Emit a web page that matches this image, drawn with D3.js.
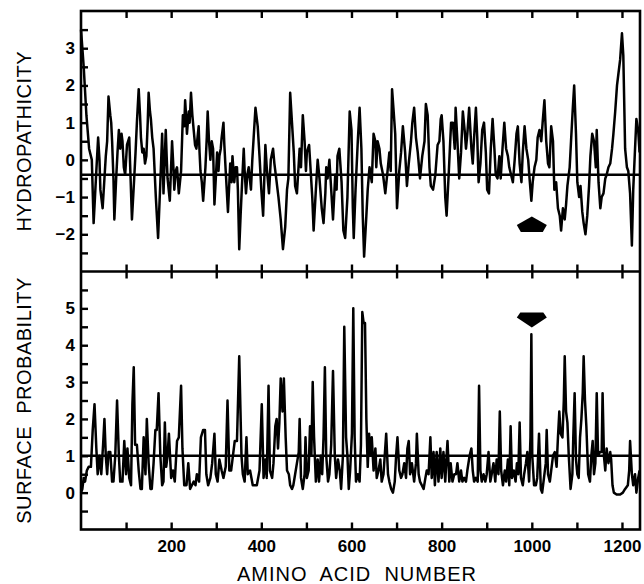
<!DOCTYPE html>
<html>
<head>
<meta charset="utf-8">
<script src="https://cdn.jsdelivr.net/npm/d3@7"></script>
<style>
  body { margin: 0; background: #fff; }
</style>
</head>
<body>
<div id="chart"></div>
<script>
// hydropathicity profile (residue number / value)
var hydroPos = [
  0,3,6,12,18,24,28,31,34,38,
  41,43,48,52,55,58,61,65,67,69,
  72,74,78,81,84,87,90,92,95,98,
  102,107,110,113,118,121,124,128,131,133,
  136,139,142,145,148,150,153,155,158,161,
  166,171,176,180,183,188,190,192,197,202,
  205,207,210,213,217,222,226,229,231,233,
  235,239,241,244,247,250,253,256,261,263,
  265,268,271,276,279,281,284,287,290,293,
  296,299,302,305,307,310,312,316,318,321,
  326,331,334,336,340,343,346,348,351,354,
  357,361,363,366,369,372,377,380,383,387,
  390,392,396,400,404,409,412,417,421,426,
  429,433,438,443,448,453,457,460,464,468,
  472,475,479,482,485,488,492,496,499,501,
  506,510,513,516,521,525,529,534,538,542,
  544,547,551,555,559,564,567,569,573,578,
  582,586,591,596,600,603,605,609,614,618,
  622,625,628,633,636,640,645,649,653,655,
  658,662,665,670,675,680,684,687,690,693,
  697,701,706,710,714,719,723,727,732,735,
  739,743,747,752,757,762,765,769,773,776,
  781,786,791,795,798,800,804,808,811,816,
  819,821,825,829,831,835,839,843,847,851,
  854,857,861,866,869,872,876,879,882,886,
  890,894,898,901,905,909,913,917,920,924,
  928,931,935,939,943,947,950,954,958,962,
  966,969,973,977,980,984,988,992,995,999,
  1002,1006,1010,1013,1017,1021,1024,1028,1032,1036,
  1039,1043,1047,1050,1054,1058,1062,1065,1069,1073,
  1076,1079,1084,1087,1091,1094,1098,1101,1105,1108,
  1112,1115,1119,1123,1127,1130,1134,1138,1142,1144,
  1148,1152,1155,1159,1163,1166,1170,1174,1178,1181,
  1185,1189,1192,1196,1200,1203,1207,1211,1214,1218,
  1222,1225,1229,1232,1236,1239
];
var hydroVal = [
  3.5,3.0,2.5,1.2,0.3,0.0,-1.7,-1.0,-0.3,0.6,
  0.0,-0.8,-1.3,-0.5,0.1,0.5,1.7,1.2,1.0,0.5,
  -0.5,-1.6,-0.5,0.2,0.8,0.3,0.7,0.5,-0.2,-0.4,
  0.4,0.6,-0.5,-1.6,-0.5,0.2,1.0,1.9,1.2,0.6,
  0.2,0.3,-0.1,0.1,1.0,1.8,1.3,1.1,0.6,0.3,
  -1.0,-2.1,-0.6,0.7,-0.9,0.8,0.1,-0.5,-1.1,0.5,
  -0.2,-0.8,-0.3,-0.2,-0.9,-0.3,1.2,0.9,1.6,1.2,
  0.7,1.3,1.0,1.8,1.2,0.8,0.4,0.3,0.9,0.2,
  -0.3,-0.6,-1.1,-0.2,0.6,1.3,0.5,0.0,0.5,0.3,
  -1.2,-0.5,0.2,-0.3,0.1,0.3,0.6,1.0,0.4,-0.3,
  -1.4,-0.1,-0.6,0.1,-0.6,-0.2,-0.2,-0.8,-2.4,-1.5,
  -0.7,0.3,-0.3,-0.9,-0.4,-0.2,-0.8,0.0,0.6,1.4,
  1.1,0.9,0.1,-0.8,-1.5,0.4,-0.2,-0.9,0.0,0.3,
  -0.1,-0.5,-1.0,-1.6,-2.4,-1.8,-0.8,-0.5,1.8,1.0,
  0.2,-0.7,-0.9,-0.3,0.3,-0.2,1.2,0.5,-0.3,0.2,
  0.4,-0.4,-1.0,-1.9,-0.8,0.0,-0.5,-1.3,-1.7,-0.9,
  -0.2,-0.5,0.0,-0.8,-1.6,-0.4,-0.8,0.1,0.3,-0.6,
  -1.9,-2.1,-1.0,1.3,0.8,-1.3,-2.1,-0.8,0.5,1.4,
  0.3,-1.5,-2.6,-1.5,-0.8,-0.2,-0.6,0.7,0.5,-0.2,
  0.5,0.3,-0.1,-0.4,-0.9,-0.3,0.2,-0.3,1.9,1.4,
  0.7,-1.3,-0.3,0.2,0.9,0.2,-0.7,-0.1,0.5,1.0,
  1.4,0.6,0.2,-0.5,0.1,0.5,1.5,1.2,-0.2,-0.7,
  -0.8,-0.4,0.4,0.5,1.1,1.2,0.5,-1.0,-1.5,-0.3,
  0.5,1.0,1.0,0.3,1.4,0.5,-0.5,0.2,1.3,0.8,
  0.3,0.7,1.4,0.3,-0.1,0.6,1.4,0.6,-0.6,-0.1,
  0.8,1.0,0.2,-0.8,-0.9,0.3,1.1,0.3,-0.4,-0.5,
  0.1,-0.5,0.3,1.0,0.3,0.1,-0.2,-0.4,-0.6,0.0,
  0.7,0.9,-0.1,-0.6,0.2,0.9,0.3,0.0,-0.5,-1.1,
  -0.6,-0.2,0.0,0.6,0.8,0.5,1.0,1.6,0.5,-0.1,
  -0.2,0.9,0.5,-0.8,-0.6,-1.3,-1.5,-1.9,-1.3,-1.6,
  -1.2,-0.7,-0.2,0.5,1.4,2.0,0.7,-0.6,-1.0,-0.7,
  -1.4,-1.7,-2.0,-1.5,-0.7,0.1,0.7,0.5,-0.2,0.8,
  -0.6,-1.3,-1.0,-0.9,-0.5,-0.4,-0.2,-0.1,0.3,0.7,
  1.3,2.0,2.3,2.7,3.4,2.8,0.3,-0.2,-0.3,-0.9,
  -2.3,-0.8,0.3,1.1,0.8,0.2
];

// surface probability profile
var surfPos = [
  0,3,6,9,13,17,22,26,30,34,
  37,41,45,49,52,55,58,61,65,69,
  72,76,80,84,87,92,96,100,103,107,
  111,114,117,120,124,128,132,135,139,143,
  146,150,154,157,161,165,168,172,176,180,
  183,186,189,192,195,200,204,208,213,217,
  222,225,229,234,238,242,246,250,254,257,
  262,266,271,275,278,282,287,291,296,299,
  303,307,312,316,321,325,329,333,337,341,
  346,351,356,359,363,367,370,375,381,387,
  390,396,401,405,409,412,416,419,424,427,
  431,434,437,440,443,447,450,454,457,461,
  464,468,471,475,479,483,485,488,492,496,
  498,501,505,508,511,514,517,521,525,528,
  532,535,538,541,544,548,551,555,559,563,
  566,570,574,577,581,584,588,591,594,597,
  601,604,607,610,614,618,621,624,627,630,
  633,636,639,642,645,649,653,656,660,664,
  667,671,677,681,684,688,692,696,699,702,
  706,710,713,717,721,724,727,730,734,739,
  743,745,749,752,756,760,764,767,771,775,
  778,782,785,789,793,797,800,804,808,811,
  813,817,820,824,828,832,835,839,843,846,
  850,854,857,862,866,869,872,876,880,883,
  886,889,893,897,900,904,908,911,915,919,
  922,926,929,932,936,940,943,947,950,953,
  956,960,964,967,970,973,976,980,983,987,
  990,994,997,999,1001,1005,1009,1012,1016,1020,
  1023,1027,1031,1033,1036,1040,1043,1047,1051,1055,
  1058,1061,1064,1068,1071,1073,1076,1079,1082,1086,
  1090,1092,1095,1098,1101,1104,1107,1110,1113,1115,
  1118,1121,1125,1129,1132,1135,1138,1141,1144,1147,
  1151,1155,1157,1160,1163,1166,1170,1174,1176,1179,
  1182,1188,1196,1202,1207,1213,1216,1218,1222,1225,
  1229,1232,1236,1239
];
var surfVal = [
  0.0,0.1,0.4,0.3,0.6,0.7,0.7,1.7,2.4,1.2,
  0.5,1.0,0.5,1.3,2.0,1.0,0.5,1.1,1.1,0.3,
  0.3,1.0,2.5,1.0,0.3,0.3,1.4,0.5,1.2,0.4,
  0.2,2.4,3.4,1.3,1.3,0.6,0.1,0.1,1.5,0.5,
  2.0,0.8,0.1,0.1,0.8,1.7,1.7,2.7,1.0,0.2,
  0.3,1.9,0.7,1.0,1.6,0.4,0.6,0.3,1.4,1.5,
  2.9,1.2,0.2,0.2,0.8,0.1,0.2,0.3,0.2,0.5,
  0.3,1.5,1.7,1.7,0.5,0.2,0.4,0.8,1.6,0.5,
  0.3,0.9,0.6,0.4,0.7,2.5,0.6,0.6,1.0,1.4,
  1.4,3.7,1.0,0.5,0.3,1.5,0.5,0.6,0.2,0.2,
  0.2,0.6,2.4,0.4,0.9,0.4,2.9,0.6,0.4,0.8,
  1.8,2.0,1.2,1.9,3.1,2.2,3.1,1.5,0.6,0.5,
  0.2,0.1,0.2,0.5,0.8,1.1,2.0,0.4,0.1,0.5,
  1.5,0.4,0.6,1.8,1.0,3.0,1.5,0.3,0.9,0.3,
  1.0,0.5,1.5,3.4,1.0,0.3,0.5,1.3,3.3,1.0,
  0.4,0.9,0.6,0.1,1.0,4.5,1.5,1.0,0.1,0.6,
  1.6,5.0,1.5,0.3,0.5,0.3,1.3,4.9,4.6,4.6,
  2.0,0.7,1.6,1.0,1.5,0.6,1.2,0.4,0.6,0.9,
  0.3,0.5,1.6,0.5,0.3,0.1,0.0,0.3,1.0,1.5,
  0.6,0.4,0.5,0.8,0.4,1.2,1.4,0.5,0.8,0.3,
  0.8,1.6,0.5,0.3,0.2,0.1,0.4,0.6,0.5,1.5,
  0.4,1.1,0.2,1.1,0.3,1.2,0.4,1.1,0.3,1.0,
  1.4,0.3,0.8,0.3,0.5,0.5,0.8,0.3,0.6,0.3,
  0.4,0.3,0.6,1.0,1.2,0.6,0.3,0.4,0.3,2.9,
  0.6,0.3,0.5,0.3,0.5,1.1,0.3,0.5,0.8,0.3,
  0.9,0.5,2.2,0.6,0.2,0.6,0.3,0.9,0.2,1.8,
  0.4,0.6,0.3,0.8,0.5,1.9,0.4,0.2,0.5,0.8,
  1.1,0.3,1.5,4.3,1.0,0.2,0.2,0.4,1.6,0.1,
  0.0,0.4,0.8,1.7,0.5,0.3,0.6,1.0,1.1,0.7,
  1.5,2.2,1.6,1.5,2.5,3.7,2.2,1.9,1.0,0.1,
  0.5,1.5,2.7,0.9,0.5,0.4,1.5,2.0,2.7,3.7,
  2.5,1.8,0.5,0.3,1.0,1.4,0.5,0.8,2.7,1.0,
  1.1,1.1,2.7,1.0,0.6,1.2,0.8,1.1,0.9,0.2,
  0.0,-0.05,-0.05,0.0,0.1,0.2,0.6,1.4,0.5,0.2,
  0.5,0.0,0.4,0.6
];

var hydroTicks = [-2, -1, 0, 1, 2, 3];
var surfTicks = [0, 1, 2, 3, 4, 5];
var xLabels = [200, 400, 600, 800, 1000, 1200];
var hydroRef = -0.4;   // mean line
var surfRef = 1.0;     // threshold line
var markPos = 1000;    // arrowed residue

var W = 644, H = 584;
// frame edges (note: "top" is a reserved window property, so use f* names)
var fLeft = 81, fRight = 640, fTop = 11, fMid = 271.5, fBottom = 529.5;
var fontFam = "'Liberation Sans', Arial, sans-serif";

var svg = d3.select("#chart").append("svg")
    .attr("width", W)
    .attr("height", H);

var x = d3.scaleLinear().domain([0, 1240]).range([fLeft, fRight]);
var yH = d3.scaleLinear().domain([-3, 4]).range([fMid, fTop]);
var yS = d3.scaleLinear().domain([-1, 6]).range([fBottom, fMid]);

var xTickVals = d3.range(100, 1240, 100);
var minus = function(v) { return v < 0 ? "\u2212" + Math.abs(v) : "" + v; };

function styleAxis(g) {
  g.select(".domain").remove();
  g.selectAll(".tick line").style("stroke", "#000").style("stroke-width", 2.4);
  g.selectAll(".tick text")
    .style("font-family", fontFam)
    .style("font-weight", "bold")
    .style("font-size", "17px")
    .style("fill", "#000");
}

// y axes, ticks every 0.5 pointing inward, labels on whole numbers
svg.append("g")
    .attr("transform", "translate(" + fLeft + ",0)")
    .call(d3.axisLeft(yH).tickValues(d3.range(-2.5, 3.51, 0.5)).tickSize(-7).tickPadding(6)
      .tickFormat(function(d) { return hydroTicks.indexOf(d) >= 0 ? minus(d) : ""; }))
    .call(styleAxis);

svg.append("g")
    .attr("transform", "translate(" + fLeft + ",0)")
    .call(d3.axisLeft(yS).tickValues(d3.range(-0.5, 5.51, 0.5)).tickSize(-7).tickPadding(6)
      .tickFormat(function(d) { return surfTicks.indexOf(d) >= 0 ? d : ""; }))
    .call(styleAxis);

// x ticks: top edge, both sides of the divider, bottom edge with labels
svg.append("g")
    .attr("transform", "translate(0," + fTop + ")")
    .call(d3.axisTop(x).tickValues(xTickVals).tickSize(-7).tickFormat(""))
    .call(styleAxis);
svg.append("g")
    .attr("transform", "translate(0," + fMid + ")")
    .call(d3.axisTop(x).tickValues(xTickVals).tickSize(7).tickFormat(""))
    .call(styleAxis);
svg.append("g")
    .attr("transform", "translate(0," + fMid + ")")
    .call(d3.axisBottom(x).tickValues(xTickVals).tickSize(7).tickFormat(""))
    .call(styleAxis);
svg.append("g")
    .attr("transform", "translate(0," + fBottom + ")")
    .call(d3.axisBottom(x).tickValues(xTickVals).tickSize(-7).tickPadding(10)
      .tickFormat(function(d) { return xLabels.indexOf(d) >= 0 ? d : ""; }))
    .call(styleAxis);

// reference lines
svg.append("line")
    .attr("x1", x(0)).attr("x2", x(1240))
    .attr("y1", yH(hydroRef)).attr("y2", yH(hydroRef))
    .style("stroke", "#000").style("stroke-width", 2.4);
svg.append("line")
    .attr("x1", x(0)).attr("x2", x(1240))
    .attr("y1", yS(surfRef)).attr("y2", yS(surfRef))
    .style("stroke", "#000").style("stroke-width", 2.4);

// profiles
var hydroLine = d3.line()
    .x(function(d) { return x(d[0]); })
    .y(function(d) { return yH(d[1]); });
var surfLine = d3.line()
    .x(function(d) { return x(d[0]); })
    .y(function(d) { return yS(d[1]); });

svg.append("path")
    .datum(d3.zip(hydroPos, hydroVal))
    .attr("d", hydroLine)
    .style("fill", "none").style("stroke", "#000")
    .style("stroke-width", 2.5).style("stroke-linejoin", "round");

svg.append("path")
    .datum(d3.zip(surfPos, surfVal))
    .attr("d", surfLine)
    .style("fill", "none").style("stroke", "#000")
    .style("stroke-width", 2.5).style("stroke-linejoin", "round");

// arrows marking residue 1000
svg.append("path")
    .attr("transform", "translate(" + x(markPos) + "," + yH(-1.75) + ")")
    .attr("d", "M0,-8.5L15,0L11,7L-11,7L-15,0Z")
    .style("fill", "#000");
svg.append("path")
    .attr("transform", "translate(" + x(markPos) + "," + yS(4.75) + ")")
    .attr("d", "M-11.5,-5L11.5,-5L15,0L0,10L-15,0Z")
    .style("fill", "#000");

// frame
svg.append("rect")
    .attr("x", fLeft).attr("y", fTop)
    .attr("width", fRight - fLeft).attr("height", fBottom - fTop)
    .style("fill", "none").style("stroke", "#000").style("stroke-width", 2.6);
svg.append("line")
    .attr("x1", fLeft).attr("x2", fRight)
    .attr("y1", fMid).attr("y2", fMid)
    .style("stroke", "#000").style("stroke-width", 2.6);

// axis titles
svg.append("text")
  .attr("transform", "translate(31," + (fTop + fMid) / 2 + ") rotate(-90)")
  .attr("text-anchor", "middle")
  .text("HYDROPATHICITY")
  .style("font-size", "20px")
  .style("font-family", fontFam)
  .style("letter-spacing", "0.5px");

svg.append("text")
  .attr("transform", "translate(31," + (fMid + fBottom) / 2 + ") rotate(-90)")
  .attr("text-anchor", "middle")
  .text("SURFACE  PROBABILITY")
  .style("font-size", "20px")
  .style("font-family", fontFam)
  .style("letter-spacing", "0.5px")
  .style("white-space", "pre");

svg.append("text")
  .attr("x", 357)
  .attr("y", 581)
  .attr("text-anchor", "middle")
  .text("AMINO  ACID  NUMBER")
  .style("font-size", "20px")
  .style("font-family", fontFam)
  .style("letter-spacing", "1px")
  .style("white-space", "pre");
</script>
</body>
</html>
